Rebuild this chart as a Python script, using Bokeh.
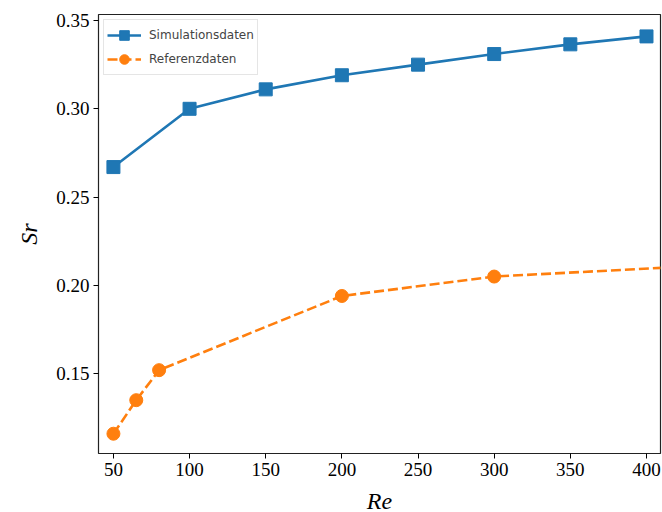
from bokeh.plotting import figure
from bokeh.models import Range1d, FixedTicker, PrintfTickFormatter, Legend, LegendItem
from bokeh.embed import file_html
from bokeh.resources import INLINE

# Strouhal number vs Reynolds number
re_sim = [50, 100, 150, 200, 250, 300, 350, 400]
sr_sim = [0.267, 0.300, 0.311, 0.319, 0.325, 0.331, 0.3365, 0.341]

re_ref = [50, 65, 80, 200, 300, 500]
sr_ref = [0.116, 0.135, 0.152, 0.194, 0.205, 0.214]

x_ticks = [50, 100, 150, 200, 250, 300, 350, 400]
y_ticks = [0.15, 0.20, 0.25, 0.30, 0.35]

BLUE = "#1f77b4"
ORANGE = "#ff7f0e"
SERIF = "Liberation Serif"

p = figure(
    width=662, height=512,
    frame_width=562, frame_height=439,
    min_border_left=98, min_border_right=2, min_border_top=14, min_border_bottom=59,
    x_range=Range1d(40.2, 409.2), y_range=Range1d(0.1048, 0.3534),
    output_backend="svg", toolbar_location=None,
)
p.grid.visible = False
p.outline_line_color = "#222222"
p.outline_line_width = 1.2

l1 = p.line(re_sim, sr_sim, line_color=BLUE, line_width=2.6)
m1 = p.scatter(re_sim, sr_sim, marker="square", size=13, fill_color=BLUE, line_color=BLUE)
l2 = p.line(re_ref, sr_ref, line_color=ORANGE, line_width=2.6, line_dash="10 4")
m2 = p.scatter(re_ref, sr_ref, marker="circle", size=13, fill_color=ORANGE, line_color=ORANGE)

for ax in (p.xaxis[0], p.yaxis[0]):
    ax.major_label_text_font = SERIF
    ax.major_label_text_font_size = "19px"
    ax.major_label_text_color = "black"
    ax.axis_label_text_font = SERIF
    ax.axis_label_text_font_style = "italic"
    ax.axis_label_text_font_size = "24px"
    ax.axis_label_text_color = "black"
    ax.axis_line_color = None
    ax.major_tick_in = 0
    ax.major_tick_out = 5
    ax.major_tick_line_color = "black"
    ax.minor_tick_line_color = None

p.xaxis.ticker = FixedTicker(ticks=x_ticks)
p.yaxis.ticker = FixedTicker(ticks=y_ticks)
p.yaxis.formatter = PrintfTickFormatter(format="%.2f")
p.xaxis.axis_label = "Re"
p.yaxis.axis_label = "Sr"
p.xaxis.axis_label_standoff = 9
p.yaxis.axis_label_standoff = 11
p.xaxis.major_label_standoff = 4
p.yaxis.major_label_standoff = 4

legend = Legend(
    items=[
        LegendItem(label="Simulationsdaten", renderers=[l1, m1]),
        LegendItem(label="Referenzdaten", renderers=[l2, m2]),
    ],
    location="top_left",
    margin=5,
    padding=3,
    spacing=0,
    glyph_width=34,
    glyph_height=24,
    label_height=20,
    label_standoff=8,
    label_text_font="DejaVu Sans",
    label_text_font_size="12px",
    border_line_color="#cccccc",
    border_line_width=1,
    background_fill_alpha=0.8,
)
p.add_layout(legend)

open("out.html", "w").write(file_html(p, INLINE))
